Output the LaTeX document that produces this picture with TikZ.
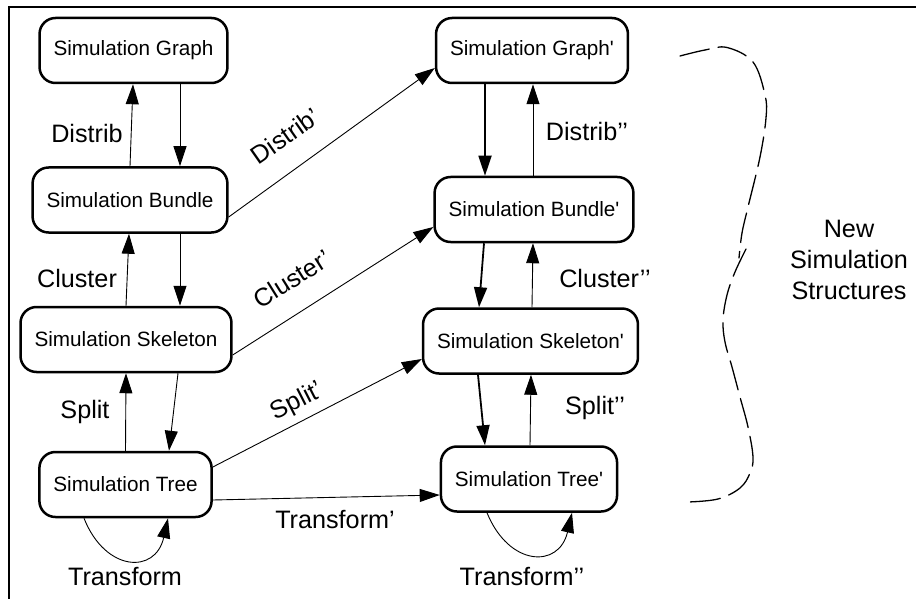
\documentclass[tikz,border=0pt]{standalone}
\usepackage{fontspec}
\setmainfont{Liberation Sans}[Ligatures=TeXOff]
\usetikzlibrary{arrows.meta,calc}

\tikzset{
  simbox/.style={draw, line width=2.5pt, rounded corners=16pt, fill=white,
    minimum height=65pt, inner xsep=14pt, inner ysep=0pt,
    font=\fontsize{20.7}{24}\selectfont},
  lbl/.style={font=\fontsize{25.2}{30}\selectfont, inner sep=0pt},
  thin arr/.style={line width=0.9pt, -{Triangle[length=20pt,width=13pt]}},
  thick arr/.style={line width=1.8pt, -{Triangle[length=20pt,width=13pt]}},
  brace/.style={line width=1.3pt, dash pattern=on 30pt off 9pt, line cap=round}
}

\begin{document}
\begin{tikzpicture}[x=1pt,y=-1pt]
\useasboundingbox (0,0) rectangle (916,599);

% outer frame (top and left edges)
\draw[line width=2pt] (9,599) -- (9,7.5) -- (916,7.5);

% original structures
\node[simbox] (G) at (133.5,50.5) {Simulation Graph};
\node[simbox] (B) at (130,200) {Simulation Bundle};
\node[simbox] (K) at (126,339.5) {Simulation Skeleton};
\node[simbox] (T) at (125.5,484.5) {Simulation Tree};

% new structures
\node[simbox] (G2) at (532,50.5) {Simulation Graph'};
\node[simbox] (B2) at (534,209.5) {Simulation Bundle'};
\node[simbox] (K2) at (530.5,341) {Simulation Skeleton'};
\node[simbox] (T2) at (529,479) {Simulation Tree'};

% left column
\draw[thin arr] (B.north) -- ($(G.south)+(-0.5,0)$);
\draw[thin arr] ($(G.south)+(46.5,0)$) -- ($(B.north)+(50,0)$);
\draw[thin arr] (K.north) -- ($(B.south)+(-1,0)$);
\draw[thin arr] ($(B.south)+(50,0)$) -- ($(K.north)+(54,0)$);
\draw[thin arr] (T.north) -- ($(K.south)+(0,0)$);
\draw[thin arr] ($(K.south)+(52,0)$) -- ($(T.north)+(43.5,0)$);
\draw[thin arr] ($(T.south)+(-41.5,0)$) .. controls ($(T.south)+(-20,54)$) and ($(T.south)+(30,56)$) .. ($(T.south)+(42.5,0)$);

% right column
\draw[thick arr] ($(G2.south)+(-47,0)$) -- ($(B2.north)+(-49,0)$);
\draw[thin arr] ($(B2.north)+(-1,0)$) -- ($(G2.south)+(1,0)$);
\draw[thick arr] ($(B2.south)+(-50,0)$) -- ($(K2.north)+(-51.5,0)$);
\draw[thin arr] ($(K2.north)+(1.5,0)$) -- ($(B2.south)+(-1,0)$);
\draw[thick arr] ($(K2.south)+(-52.5,0)$) -- ($(T2.north)+(-44,0)$);
\draw[thin arr] ($(T2.north)+(1,0)$) -- ($(K2.south)+(0.5,0)$);
\draw[thin arr] ($(T2.south)+(-42,0)$) .. controls ($(T2.south)+(-20,54)$) and ($(T2.south)+(30,56)$) .. ($(T2.south)+(43,0)$);

% cross transitions
\draw[thin arr] ($(B.east)+(0,17)$) -- ($(G2.west)+(0,17.5)$);
\draw[thin arr] ($(K.east)+(0,15.5)$) -- ($(B2.west)+(0,17.5)$);
\draw[thin arr] ($(T.east)+(0,-17.5)$) -- ($(K2.west)+(0,18)$);
\draw[thin arr] ($(T.east)+(0,15.5)$) -- ($(T2.west)+(0,16)$);

% labels
\node[lbl] (lDistrib) at (87,133) {Distrib};
\node[lbl] (lCluster) at (77,278) {Cluster};
\node[lbl] (lSplit) at (85,412) {Split};
\node[lbl] (lTransform) at (125,577) {Transform};
\node[lbl, rotate=35] (lDistribA) at (285,136) {Distrib’};
\node[lbl, rotate=32] (lClusterA) at (292,279) {Cluster’};
\node[lbl, rotate=27] (lSplitA) at (297,402) {Split’};
\node[lbl] (lTransformA) at (335,520) {Transform’};
\node[lbl] (lDistribB) at (587,131) {Distrib’’};
\node[lbl] (lClusterB) at (605,278) {Cluster’’};
\node[lbl] (lSplitB) at (595,408) {Split’’};
\node[lbl] (lTransformB) at (522,577) {Transform’’};
\node[lbl, align=center, font=\fontsize{25.2}{31}\selectfont] (lNew) at (849,260) {New\\Simulation\\Structures};

% hand-drawn brace around the new structures
\draw[brace] plot[smooth, tension=0.6] coordinates {(680,56) (705,50) (727,47.5) (753,62) (765,95) (766,118) (760,157) (748,207) (742,233) (739,258)};
\draw[brace] plot[smooth, tension=0.6] coordinates {(746,249) (735,272) (727,295) (723,320) (725,342) (732,367) (740,397) (748,427) (753,457) (750,473) (740,488) (718,499) (688,502)};
\end{tikzpicture}
\end{document}
